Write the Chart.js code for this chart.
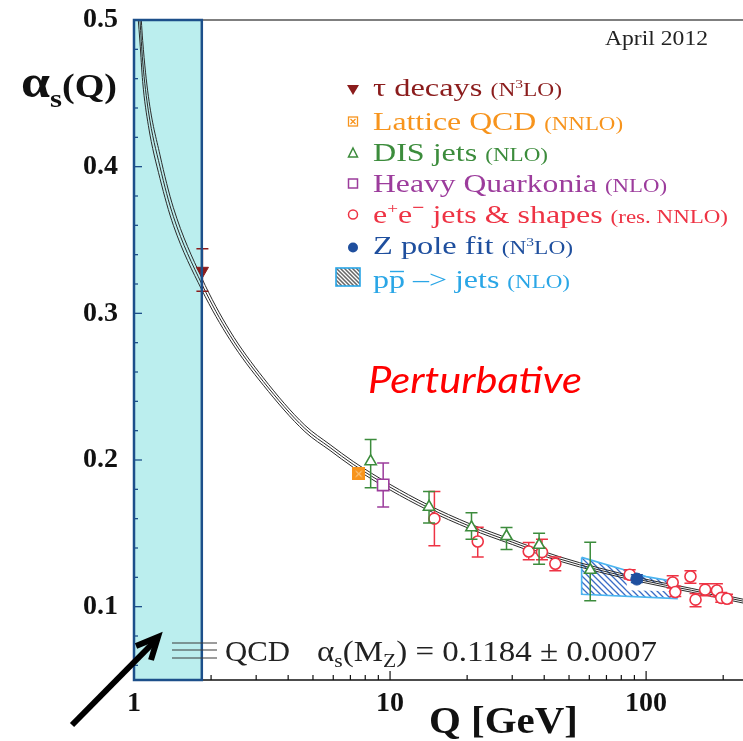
<!DOCTYPE html>
<html>
<head>
<meta charset="utf-8">
<script src="https://cdn.jsdelivr.net/npm/chart.js@4.4.0/dist/chart.umd.min.js"></script>
<style>
  html, body { margin: 0; padding: 0; background: #fff; }
  canvas { display: block; }
</style>
</head>
<body>
<canvas id="chart" width="743" height="741" style="width:743px;height:741px"></canvas>
<script>
// running coupling band (three lines)
const bandQ   = [1.02, 1.055, 1.081, 1.138, 1.263, 1.425, 1.84, 2.37, 3.2, 4.65, 5.83, 7.18, 10, 14, 20.5, 30, 46, 94, 150, 239];
const bandMid = [0.535, 0.500, 0.472, 0.438, 0.400, 0.366, 0.320, 0.285, 0.2535, 0.2215, 0.2085, 0.197, 0.1815, 0.1678, 0.1548, 0.144, 0.1325, 0.1184, 0.1112, 0.1038];
const bandUp  = [0.552, 0.515, 0.486, 0.448, 0.408, 0.372, 0.324, 0.288, 0.256, 0.2237, 0.2105, 0.199, 0.1834, 0.1696, 0.1565, 0.1456, 0.134, 0.1197, 0.1125, 0.1051];
const bandLow = [0.518, 0.485, 0.458, 0.428, 0.392, 0.360, 0.316, 0.282, 0.251, 0.2193, 0.2065, 0.195, 0.1796, 0.166, 0.1531, 0.1424, 0.131, 0.1171, 0.1099, 0.1025];

// measurements: Q, alpha_s, lower and upper end of the error bar
const tauQ = [1.85], tauA = [0.329], tauLo = [0.315], tauHi = [0.344];
const latQ = [7.55], latA = [0.1905], latLo = [0.1885], latHi = [0.1925];
const disQ  = [8.4, 14.2, 20.8, 28.5, 38.2, 60.5];
const disA  = [0.199, 0.168, 0.154, 0.148, 0.142, 0.125];
const disLo = [0.181, 0.157, 0.146, 0.139, 0.129, 0.104];
const disHi = [0.214, 0.1785, 0.164, 0.154, 0.150, 0.144];
const hqQ = [9.4], hqA = [0.183], hqLo = [0.168], hqHi = [0.198];
const eeQ  = [14.9, 22, 34.8, 39.2, 44.2, 86.3, 127, 130, 149, 156, 170, 189, 196.5, 207];
const eeA  = [0.160, 0.1444, 0.1376, 0.1372, 0.1293, 0.1218, 0.1165, 0.110, 0.1206, 0.1048, 0.1116, 0.111, 0.106, 0.1054];
const eeLo = [0.1415, 0.1338, 0.132, 0.132, 0.1245, 0.1188, 0.1127, 0.107, 0.116, 0.100, 0.1075, 0.107, 0.103, 0.1025];
const eeHi = [0.1785, 0.1542, 0.1437, 0.146, 0.1338, 0.1252, 0.121, 0.114, 0.1245, 0.109, 0.1156, 0.1156, 0.1097, 0.1085];
const zQ = [92], zA = [0.1188], zLo = [0.1165], zHi = [0.1218];
// p pbar -> jets hatched area (outline) and the blank patch inside it
const ppQ = [56, 56, 132, 132, 100, 82, 56];
const ppA = [0.1336, 0.1085, 0.1055, 0.1168, 0.1205, 0.1252, 0.1336];
const ppHoleQ = [84, 128, 128, 84, 84];
const ppHoleA = [0.1185, 0.1148, 0.1105, 0.1112, 0.1185];

const npRange = [1, 1.84];   // non-perturbative region
const yTicks = [0.06, 0.08, 0.1, 0.12, 0.14, 0.16, 0.18, 0.2, 0.22, 0.24, 0.26, 0.28, 0.3, 0.32, 0.34, 0.36, 0.38, 0.4, 0.42, 0.44, 0.46, 0.48, 0.5];
const yMajor = [0.1, 0.2, 0.3, 0.4, 0.5];
const xTicks = [1, 2, 3, 4, 5, 6, 7, 8, 9, 10, 20, 30, 40, 50, 60, 70, 80, 90, 100, 200];
const xMajor = [1, 10, 100];

const SERIF = '"Liberation Serif", "Times New Roman", serif';
const C = {
  tau: '#8b1c1c', lat: '#f7941d', dis: '#3c8c3c', hq: '#9c3c9c',
  ee: '#ee3344', z: '#1f4f9e', pp: '#2aa6e6', band: '#2b2b2b',
  cyan: '#bbeeee', box: '#1c4f8a'
};

const pts = (qs, as) => qs.map((q, i) => ({ x: q, y: as[i] }));
const isIn = (arr, v) => arr.some(m => Math.abs(m - v) < 1e-9);

const ctx = document.getElementById('chart').getContext('2d');

// hatch for the p pbar band
const hc = document.createElement('canvas');
hc.width = 6; hc.height = 6;
const hx = hc.getContext('2d');
hx.strokeStyle = '#3a6cc6';
hx.lineWidth = 1.3;
hx.beginPath();
hx.moveTo(-1, -1); hx.lineTo(7, 7);
hx.moveTo(-1, 5); hx.lineTo(1, 7);
hx.moveTo(5, -1); hx.lineTo(7, 1);
hx.stroke();
const hatch = ctx.createPattern(hc, 'repeat');

// lattice marker: filled orange square with small marks inside
const lc = document.createElement('canvas');
lc.width = 13; lc.height = 13;
const lx = lc.getContext('2d');
lx.fillStyle = C.lat;
lx.fillRect(0, 0, 13, 13);
lx.strokeStyle = '#fde2b8';
lx.lineWidth = 1;
lx.beginPath();
lx.moveTo(3.5, 3.5); lx.lineTo(9.5, 9.5);
lx.moveTo(9.5, 3.5); lx.lineTo(3.5, 9.5);
lx.stroke();

const errorBars = {
  id: 'errorBars',
  beforeDatasetDraw(chart, args) {
    const ds = chart.data.datasets[args.index];
    if (!ds.errLo) return;
    const { ctx, scales: { x, y } } = chart;
    ctx.save();
    ctx.strokeStyle = ds.borderColor;
    ctx.lineWidth = 1.5;
    ds.data.forEach((p, i) => {
      const px = x.getPixelForValue(p.x);
      const y0 = y.getPixelForValue(ds.errLo[i]);
      const y1 = y.getPixelForValue(ds.errHi[i]);
      ctx.beginPath();
      ctx.moveTo(px, y0); ctx.lineTo(px, y1);
      ctx.moveTo(px - 6, y0); ctx.lineTo(px + 6, y0);
      ctx.moveTo(px - 6, y1); ctx.lineTo(px + 6, y1);
      ctx.stroke();
    });
    ctx.restore();
  }
};

// draw text made of runs, stretched to a given width
function runs(ctx, parts, x, base, width) {
  let w = 0;
  parts.forEach(p => { ctx.font = (p.bold ? 'bold ' : '') + p.size + 'px ' + SERIF; w += ctx.measureText(p.t).width; });
  const sx = width ? width / w : 1;
  let cx = x;
  parts.forEach(p => {
    ctx.font = (p.bold ? 'bold ' : '') + p.size + 'px ' + SERIF;
    const pw = ctx.measureText(p.t).width * sx;
    ctx.save();
    ctx.fillStyle = p.color;
    ctx.translate(cx, base + (p.dy || 0));
    ctx.scale(sx, 1);
    ctx.textAlign = 'left';
    ctx.textBaseline = 'alphabetic';
    ctx.fillText(p.t, 0, 0);
    ctx.restore();
    if (p.over) {
      ctx.save();
      ctx.strokeStyle = p.color;
      ctx.lineWidth = 1.4;
      ctx.beginPath();
      ctx.moveTo(cx + 1, base - p.size * 0.66);
      ctx.lineTo(cx + pw - 1, base - p.size * 0.66);
      ctx.stroke();
      ctx.restore();
    }
    cx += pw;
  });
}

// keep the plot area exactly where the page puts it
const noPad = s => { s.paddingLeft = 0; s.paddingRight = 0; s.paddingTop = 0; s.paddingBottom = 0; };

const decor = {
  id: 'decor',
  beforeDatasetsDraw(chart) {
    const { ctx, chartArea: a, scales: { x } } = chart;
    const x0 = x.getPixelForValue(npRange[0]);
    const x1 = x.getPixelForValue(npRange[1]);
    ctx.save();
    ctx.fillStyle = C.cyan;
    ctx.fillRect(x0, a.top, x1 - x0, a.bottom - a.top);
    ctx.restore();
  },
  afterDatasetsDraw(chart) {
    const { ctx, chartArea: a, scales: { x, y } } = chart;
    const x0 = x.getPixelForValue(npRange[0]);
    const x1 = x.getPixelForValue(npRange[1]);
    ctx.save();
    // frame
    ctx.strokeStyle = '#555';
    ctx.lineWidth = 1.5;
    ctx.beginPath();
    ctx.moveTo(x0, a.top); ctx.lineTo(a.right, a.top);
    ctx.stroke();
    ctx.strokeStyle = '#111';
    ctx.beginPath();
    ctx.moveTo(x0, a.bottom); ctx.lineTo(a.right, a.bottom);
    ctx.stroke();
    // x ticks, pointing up
    ctx.lineWidth = 1.2;
    xTicks.forEach(v => {
      const px = x.getPixelForValue(v);
      const len = isIn(xMajor, v) ? 9 : 5;
      ctx.beginPath();
      ctx.moveTo(px, a.bottom); ctx.lineTo(px, a.bottom - len);
      ctx.stroke();
    });
    // non-perturbative box outline
    ctx.strokeStyle = C.box;
    ctx.lineWidth = 2.5;
    ctx.strokeRect(x0, a.top, x1 - x0, a.bottom - a.top);
    // y ticks, pointing right
    ctx.lineWidth = 1.3;
    yTicks.forEach(v => {
      const py = y.getPixelForValue(v);
      const len = isIn(yMajor, v) ? 8 : 4;
      ctx.beginPath();
      ctx.moveTo(a.left, py); ctx.lineTo(a.left + len, py);
      ctx.stroke();
    });
    ctx.restore();
  },
  afterDraw(chart) {
    const { ctx } = chart;
    ctx.save();

    // axis titles
    runs(ctx, [{ t: 'α', size: 46, bold: true, color: '#111' }], 21, 97, 29);
    runs(ctx, [{ t: 's', size: 26, bold: true, color: '#111' }], 50, 107, 12);
    runs(ctx, [{ t: '(Q)', size: 34, bold: true, color: '#111' }], 62, 97, 55);
    runs(ctx, [{ t: 'Q [GeV]', size: 38, bold: true, color: '#111' }], 429, 733, 149);

    runs(ctx, [{ t: 'April 2012', size: 20, color: '#222' }], 605, 45, 103);

    // legend
    const LX = 373, big = 25, sm = 18;
    runs(ctx, [
      { t: 'τ decays ', size: big, color: C.tau },
      { t: '(N', size: sm, color: C.tau },
      { t: '3', size: 12, color: C.tau, dy: -8 },
      { t: 'LO)', size: sm, color: C.tau }
    ], LX, 96, 189);
    runs(ctx, [
      { t: 'Lattice QCD ', size: big, color: C.lat },
      { t: '(NNLO)', size: sm, color: C.lat }
    ], LX, 130, 250);
    runs(ctx, [
      { t: 'DIS jets ', size: big, color: C.dis },
      { t: '(NLO)', size: sm, color: C.dis }
    ], LX, 161, 175);
    runs(ctx, [
      { t: 'Heavy Quarkonia ', size: big, color: C.hq },
      { t: '(NLO)', size: sm, color: C.hq }
    ], LX, 192, 294);
    runs(ctx, [
      { t: 'e', size: big, color: C.ee },
      { t: '+', size: 15, color: C.ee, dy: -10 },
      { t: 'e', size: big, color: C.ee },
      { t: '−', size: 17, bold: true, color: C.ee, dy: -10 },
      { t: ' jets & shapes ', size: big, color: C.ee },
      { t: '(res. NNLO)', size: sm, color: C.ee }
    ], LX, 223, 355);
    runs(ctx, [
      { t: 'Z pole fit ', size: big, color: C.z },
      { t: '(N', size: sm, color: C.z },
      { t: '3', size: 12, color: C.z, dy: -8 },
      { t: 'LO)', size: sm, color: C.z }
    ], LX, 254, 200);
    runs(ctx, [
      { t: 'p', size: big, color: C.pp },
      { t: 'p', size: big, color: C.pp, over: true },
      { t: ' –> jets ', size: big, color: C.pp },
      { t: '(NLO)', size: sm, color: C.pp }
    ], LX, 288, 197);

    // legend symbols
    const SX = 353;
    ctx.fillStyle = C.tau;
    ctx.beginPath();
    ctx.moveTo(SX - 6, 85); ctx.lineTo(SX + 6, 85); ctx.lineTo(SX, 95); ctx.closePath();
    ctx.fill();

    ctx.strokeStyle = C.lat; ctx.lineWidth = 1.3;
    ctx.strokeRect(SX - 4.5, 117, 9, 9);
    ctx.beginPath();
    ctx.moveTo(SX - 2.5, 119); ctx.lineTo(SX + 2.5, 124);
    ctx.moveTo(SX + 2.5, 119); ctx.lineTo(SX - 2.5, 124);
    ctx.stroke();

    ctx.strokeStyle = C.dis; ctx.lineWidth = 1.5;
    ctx.beginPath();
    ctx.moveTo(SX, 148); ctx.lineTo(SX + 4.5, 157); ctx.lineTo(SX - 4.5, 157); ctx.closePath();
    ctx.stroke();

    ctx.strokeStyle = C.hq;
    ctx.strokeRect(SX - 4.5, 179, 9, 9);

    ctx.strokeStyle = C.ee;
    ctx.beginPath(); ctx.arc(SX, 214.5, 4.5, 0, Math.PI * 2); ctx.stroke();

    ctx.fillStyle = C.z;
    ctx.beginPath(); ctx.arc(SX, 247.5, 5, 0, Math.PI * 2); ctx.fill();

    ctx.fillStyle = '#fff';
    ctx.fillRect(336, 268, 24, 18);
    ctx.save();
    ctx.beginPath(); ctx.rect(336, 268, 24, 18); ctx.clip();
    ctx.strokeStyle = '#666'; ctx.lineWidth = 1.5;
    ctx.beginPath();
    for (let k = -24; k < 30; k += 4) { ctx.moveTo(336 + k, 268); ctx.lineTo(336 + k + 18, 286); }
    ctx.stroke();
    ctx.restore();
    ctx.strokeStyle = C.pp; ctx.lineWidth = 1.6;
    ctx.strokeRect(336, 268, 24, 18);

    // Perturbative label
    ctx.font = 'italic 37px Lato, "Open Sans", sans-serif';
    const pw = ctx.measureText('Perturbative').width;
    ctx.save();
    ctx.fillStyle = '#ff0000';
    ctx.translate(368, 393);
    ctx.scale(214 / pw, 1);
    ctx.fillText('Perturbative', 0, 0);
    ctx.restore();

    // QCD band key and world average
    ctx.strokeStyle = '#3a3a3a'; ctx.lineWidth = 1.2;
    ctx.beginPath();
    [643, 650, 658].forEach(yy => { ctx.moveTo(172, yy); ctx.lineTo(217, yy); });
    ctx.stroke();
    runs(ctx, [{ t: 'QCD', size: 29, color: '#222' }], 225, 661, 65);
    runs(ctx, [
      { t: 'α', size: 29, color: '#222' },
      { t: 's', size: 19, color: '#222', dy: 6 },
      { t: '(M', size: 29, color: '#222' },
      { t: 'Z', size: 19, color: '#222', dy: 6 },
      { t: ') = 0.1184 ± 0.0007', size: 29, color: '#222' }
    ], 317, 661, 340);

    // arrow to the non-perturbative box
    ctx.strokeStyle = '#000'; ctx.lineWidth = 6; ctx.lineCap = 'butt'; ctx.lineJoin = 'miter';
    ctx.beginPath();
    ctx.moveTo(72, 725); ctx.lineTo(156, 640);
    ctx.stroke();
    ctx.beginPath();
    ctx.moveTo(136, 646); ctx.lineTo(158, 637); ctx.lineTo(151, 660);
    ctx.stroke();

    ctx.restore();
  }
};

const tickFont = { family: SERIF, size: 28, weight: 'bold' };

new Chart(ctx, {
  type: 'scatter',
  data: {
    datasets: [
      { label: 'tau', data: pts(tauQ, tauA), errLo: tauLo, errHi: tauHi, pointStyle: 'triangle', rotation: 180,
        pointRadius: 7, backgroundColor: C.tau, borderColor: C.tau, borderWidth: 1, order: 0 },
      { label: 'lattice', data: pts(latQ, latA), errLo: latLo, errHi: latHi, pointStyle: lc,
        borderColor: C.lat, order: 0 },
      { label: 'dis', data: pts(disQ, disA), errLo: disLo, errHi: disHi, pointStyle: 'triangle',
        pointRadius: 6.5, backgroundColor: '#fff', borderColor: C.dis, borderWidth: 1.6, order: 1 },
      { label: 'hq', data: pts(hqQ, hqA), errLo: hqLo, errHi: hqHi, pointStyle: 'rect',
        pointRadius: 8, backgroundColor: '#fff', borderColor: C.hq, borderWidth: 1.6, order: 1 },
      { label: 'ee', data: pts(eeQ, eeA), errLo: eeLo, errHi: eeHi, pointStyle: 'circle',
        pointRadius: 5.5, backgroundColor: '#fff', borderColor: C.ee, borderWidth: 1.6, order: 1 },
      { label: 'z', data: pts(zQ, zA), errLo: zLo, errHi: zHi, pointStyle: 'circle',
        pointRadius: 6, backgroundColor: C.z, borderColor: C.z, borderWidth: 1, order: 0 },
      { type: 'line', label: 'up', data: pts(bandQ, bandUp), borderColor: C.band, borderWidth: 1,
        pointRadius: 0, cubicInterpolationMode: 'monotone', fill: false, order: 5 },
      { type: 'line', label: 'mid', data: pts(bandQ, bandMid), borderColor: C.band, borderWidth: 1,
        pointRadius: 0, cubicInterpolationMode: 'monotone', fill: false, order: 5 },
      { type: 'line', label: 'low', data: pts(bandQ, bandLow), borderColor: C.band, borderWidth: 1,
        pointRadius: 0, cubicInterpolationMode: 'monotone', fill: false, order: 5 },
      { type: 'line', label: 'hole', data: pts(ppHoleQ, ppHoleA), borderWidth: 0, borderColor: 'rgba(0,0,0,0)',
        backgroundColor: '#fff', pointRadius: 0, fill: 'shape', order: 8 },
      { type: 'line', label: 'ppbar', data: pts(ppQ, ppA), borderColor: '#4ab4f0', borderWidth: 1.6,
        backgroundColor: hatch, pointRadius: 0, fill: 'shape', order: 9 }
    ]
  },
  options: {
    responsive: false,
    animation: false,
    layout: { autoPadding: false, padding: { top: 20, left: 0, right: 0, bottom: 0 } },
    plugins: { legend: { display: false }, tooltip: { enabled: false } },
    scales: {
      x: {
        type: 'logarithmic', min: 1, max: 239,
        afterBuildTicks: s => { s.ticks = xTicks.map(v => ({ value: v })); },
        afterFit: s => { s.height = 61; noPad(s); },
        grid: { display: false, drawTicks: false },
        border: { display: false },
        ticks: { autoSkip: false, maxRotation: 0, padding: 7, color: '#111', font: tickFont,
          callback: v => isIn(xMajor, v) ? String(v) : '' }
      },
      y: {
        min: 0.05, max: 0.5,
        afterBuildTicks: s => { s.ticks = yTicks.map(v => ({ value: v })); },
        afterFit: s => { s.width = 134; noPad(s); },
        grid: { display: false, drawTicks: false },
        border: { display: false },
        ticks: { autoSkip: false, padding: 16, color: '#111', font: tickFont,
          callback: v => isIn(yMajor, v) ? v.toFixed(1) : '' }
      }
    }
  },
  plugins: [errorBars, decor]
});
</script>
</body>
</html>
